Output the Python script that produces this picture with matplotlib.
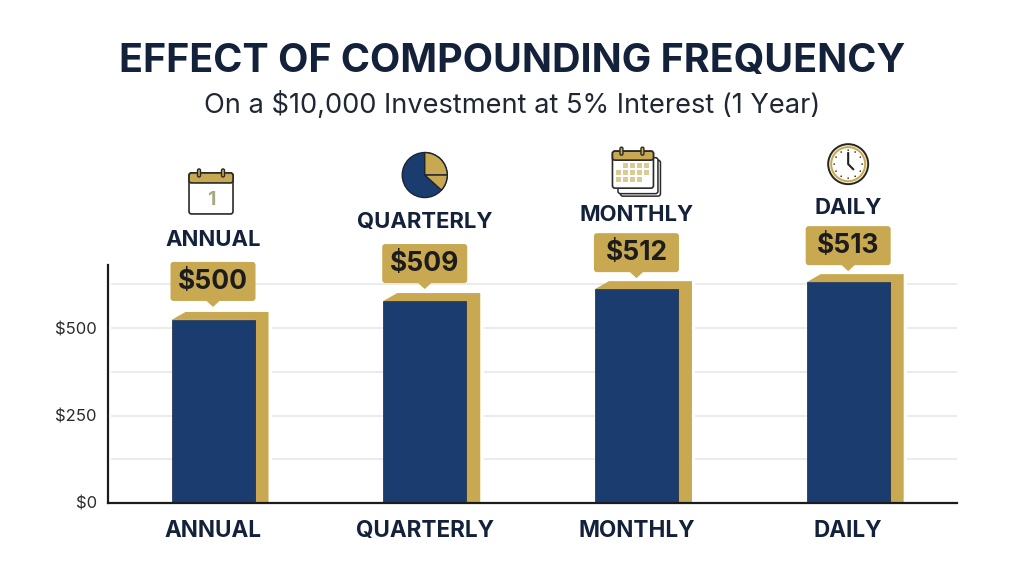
import numpy as np
import matplotlib
matplotlib.use('Agg')
import matplotlib.pyplot as plt
from matplotlib.patches import Rectangle, Polygon, FancyBboxPatch, Circle, Wedge

categories = ['ANNUAL', 'QUARTERLY', 'MONTHLY', 'DAILY']
value_labels = ['$500', '$509', '$512', '$513']
# bars are drawn taller than their labels in the source picture
bar_heights = [523, 577, 611, 631]
grid_values = [125, 250, 375, 500, 625]
tick_values = [0, 250, 500]
tick_labels = ['$0', '$250', '$500']

NAVY = '#1a3c6e'
GOLD = '#c8a951'
DARK = '#14213a'
FONT = 'Inter'

W, H = 1024, 572
fig = plt.figure(figsize=(W / 100, H / 100), dpi=100, facecolor='white')

# axes box in pixels: left 108, right 957, bottom 503, top 265
ax = fig.add_axes([108 / W, 1 - 503 / H, (957 - 108) / W, (503 - 265) / H])
ax.set_xlim(-0.496, 3.514)
ax.set_ylim(0, 680)
ax.set_facecolor('none')
for s in ['top', 'right']:
    ax.spines[s].set_visible(False)
for s in ['left', 'bottom']:
    ax.spines[s].set_linewidth(1.6)
    ax.spines[s].set_color('#1c1c1c')
    ax.spines[s].set_zorder(6)

for g in grid_values:
    ax.axhline(g, xmin=0.005, color='#e8e8e8', linewidth=1.2, zorder=1)

x = np.arange(len(categories))
BAR_W = 83 / 211.7
ax.bar(x, bar_heights, width=BAR_W, color=NAVY, edgecolor='#16263f', linewidth=0.5, zorder=4)

# gold side and top faces of the fake 3d bars
dx = 14 / 211.7
dy = 8 / 0.35
halo = 3.5 / 211.7
for xi, h in zip(x, bar_heights):
    r = xi + BAR_W / 2
    l = xi - BAR_W / 2
    # white gap where the gridlines stop short of the gold side
    ax.add_patch(Rectangle((r, 0), dx + halo, h + dy, facecolor='white', edgecolor='none', zorder=2))
    ax.add_patch(Polygon([(l, h), (l + dx, h + dy), (r + dx, h + dy), (r + dx, 0), (r, 0), (r, h)],
                         closed=True, facecolor=GOLD, edgecolor='none', zorder=3))

ax.set_xticks(x)
ax.set_xticklabels(categories, fontfamily=FONT, fontweight='bold', fontsize=16.2, color=DARK)
ax.set_yticks(tick_values)
ax.set_yticklabels(tick_labels, fontfamily=FONT, fontsize=12, color='#2b2b2b')
ax.tick_params(axis='both', length=0)
ax.tick_params(axis='x', pad=12)
ax.tick_params(axis='y', pad=8)

# overlay in image pixels for callouts, icons and titles
ov = fig.add_axes([0, 0, 1, 1], zorder=10)
ov.set_xlim(0, W)
ov.set_ylim(H, 0)
ov.axis('off')


def bar_top_px(xi, h):
    px = ax.transData.transform((xi, h))
    return px[0], H - px[1]


def icon_calendar(cx, cy):
    cx -= 2
    ov.add_patch(FancyBboxPatch((cx - 22, cy - 20), 44, 41, boxstyle='round,pad=0,rounding_size=2.5',
                                facecolor='white', edgecolor='#2a2a2a', linewidth=1.2))
    ov.add_patch(FancyBboxPatch((cx - 22, cy - 20), 44, 10, boxstyle='round,pad=0,rounding_size=2.5',
                                facecolor=GOLD, edgecolor='#2a2a2a', linewidth=1.2))
    for off in [-12, 12]:
        ov.add_patch(FancyBboxPatch((cx + off - 1.5, cy - 24), 3, 8, boxstyle='round,pad=0,rounding_size=1.5',
                                    facecolor=GOLD, edgecolor='#2a2a2a', linewidth=1))
    ov.text(cx, cy + 7, '1', ha='center', va='center', fontsize=14, fontweight='bold',
            family=FONT, color='#a9a77f')


def icon_pie(cx, cy):
    # Wedge angles flipped because the overlay y axis points down
    ov.add_patch(Circle((cx, cy), 22.5, facecolor=NAVY, edgecolor='#1c2433', linewidth=1))
    ov.add_patch(Wedge((cx, cy), 22.5, -90, 0, facecolor=GOLD, edgecolor='#1c2433', linewidth=1))
    ov.add_patch(Wedge((cx, cy), 22.5, 0, 42, facecolor=GOLD, edgecolor='#1c2433', linewidth=1))


def icon_calendars(cx, cy):
    cy -= 2
    for off in [5, 2.5]:
        ov.add_patch(FancyBboxPatch((cx - 21 + off, cy - 15 + off), 40, 36, boxstyle='round,pad=0,rounding_size=2.5',
                                    facecolor='white', edgecolor='#2a2a2a', linewidth=1.1))
    ov.add_patch(FancyBboxPatch((cx - 24, cy - 19), 41, 37, boxstyle='round,pad=0,rounding_size=2.5',
                                facecolor='white', edgecolor='#2a2a2a', linewidth=1.2))
    ov.add_patch(FancyBboxPatch((cx - 24, cy - 19), 41, 9, boxstyle='round,pad=0,rounding_size=2.5',
                                facecolor=GOLD, edgecolor='#2a2a2a', linewidth=1.2))
    for off in [-15, 6]:
        ov.add_patch(FancyBboxPatch((cx + off - 1.5, cy - 23), 3, 8, boxstyle='round,pad=0,rounding_size=1.5',
                                    facecolor=GOLD, edgecolor='#2a2a2a', linewidth=1))
    for row in range(3):
        for col in range(5):
            if (row == 0 and col == 0) or (row == 2 and col == 4):
                continue
            ov.add_patch(Rectangle((cx - 20 + col * 7, cy - 7 + row * 7), 4.5, 4.5,
                                   facecolor='#d8cc94', edgecolor='none'))


def icon_clock(cx, cy):
    ov.add_patch(Circle((cx, cy), 20, facecolor='#f3efd8', edgecolor='#26261e', linewidth=1.4))
    ov.add_patch(Circle((cx, cy), 17, facecolor='white', edgecolor=GOLD, linewidth=1.4))
    for a in np.arange(0, 360, 30):
        ov.add_patch(Circle((cx + 14 * np.cos(np.radians(a)), cy + 14 * np.sin(np.radians(a))),
                            0.8, facecolor='#222222', edgecolor='none'))
    ov.plot([cx, cx, cx + 5], [cy - 11, cy, cy + 5], color='#222222', linewidth=1.5)


icons = [icon_calendar, icon_pie, icon_calendars, icon_clock]
box_gaps = [19, 18, 17, 17]
label_gaps = [80, 79, 74, 74]
icon_gaps = [127, 126, 117, 118]

for xi, h, val, name, icon, bg, lg, ig in zip(x, bar_heights, value_labels, categories, icons,
                                              box_gaps, label_gaps, icon_gaps):
    cx, top = bar_top_px(xi, h)
    box_bottom = top - bg
    ov.add_patch(FancyBboxPatch((cx - 42.5, box_bottom - 39), 85, 39, boxstyle='round,pad=0,rounding_size=3',
                                facecolor=GOLD, edgecolor='none'))
    ov.add_patch(Polygon([(cx - 7, box_bottom - 0.5), (cx + 7, box_bottom - 0.5), (cx, box_bottom + 6)],
                         closed=True, facecolor=GOLD, edgecolor='none'))
    ov.text(cx, box_bottom - 19, val, ha='center', va='center', fontsize=19, fontweight='bold',
            family=FONT, color='#1c1c1c')
    ov.text(cx, top - lg, name, ha='center', va='center', fontsize=15.9, fontweight='bold',
            family=FONT, color=DARK)
    icon(cx, top - ig)

ov.text(512, 62, 'EFFECT OF COMPOUNDING FREQUENCY', ha='center', va='center', fontsize=28.4,
        fontweight='bold', family=FONT, color=DARK)
ov.text(512, 105, 'On a $10,000 Investment at 5% Interest (1 Year)', ha='center', va='center',
        fontsize=19.6, family=FONT, color='#1f2733')

fig.savefig('out.png', dpi=100)
